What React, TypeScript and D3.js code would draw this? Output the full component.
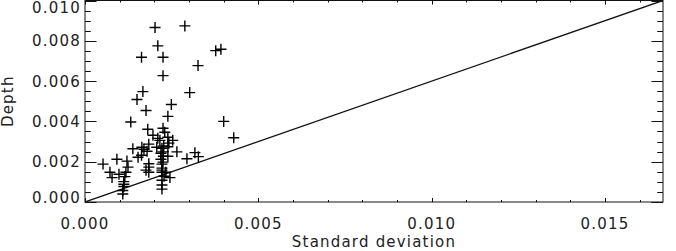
import React, { useEffect, useRef } from "react";
import * as d3 from "d3";

// standard deviation (x) and depth (y) of each measured point
const stdDev = [
  0.00202, 0.00288, 0.0021, 0.00163, 0.00225, 0.00225, 0.00377, 0.00392, 0.00326, 0.00302,
  0.00167, 0.0015, 0.00176, 0.00249, 0.00239, 0.00132, 0.004, 0.00429, 0.00181, 0.00225,
  0.00196, 0.0023, 0.0021, 0.00239, 0.00253, 0.00138, 0.00164, 0.00184, 0.00179, 0.00207,
  0.00225, 0.00239, 0.00265, 0.00294, 0.00317, 0.00327, 0.00052, 0.00092, 0.00072, 0.00078,
  0.00121, 0.00124, 0.00115, 0.00112, 0.00112, 0.00109, 0.00109, 0.00118, 0.00153, 0.00163,
  0.00184, 0.00184, 0.00184, 0.00219, 0.00226, 0.00222, 0.00222, 0.00222, 0.00233, 0.00245,
  0.00222, 0.00222, 0.00228, 0.00219, 0.00222, 0.00216, 0.00242, 0.00239, 0.00176, 0.00225,
  0.00222, 0.00222, 0.00112, 0.00098, 0.0017, 0.00227,
];
const depth = [
  0.00866, 0.00874, 0.00775, 0.00718, 0.00718, 0.00627, 0.00751, 0.00758, 0.00677, 0.00543,
  0.00548, 0.00509, 0.00454, 0.00484, 0.00425, 0.00397, 0.004, 0.00319, 0.00361, 0.00366,
  0.00331, 0.00346, 0.00316, 0.00321, 0.00306, 0.00264, 0.00272, 0.00287, 0.00252, 0.00272,
  0.00249, 0.00274, 0.00249, 0.00215, 0.00245, 0.00225, 0.00188, 0.00212, 0.00148, 0.00121,
  0.00203, 0.00173, 0.00126, 0.00101, 0.00077, 0.00057, 0.0004, 0.00148, 0.00222, 0.00232,
  0.0019, 0.00173, 0.00148, 0.00212, 0.00227, 0.00188, 0.00168, 0.00148, 0.00148, 0.00121,
  0.00084, 0.00064, 0.00128, 0.00242, 0.00267, 0.00306, 0.00292, 0.00227, 0.00158, 0.00198,
  0.00108, 0.00158, 0.00088, 0.00138, 0.00262, 0.00278,
];
const xTicks = [0, 0.005, 0.01, 0.015];
const yTicks = [0, 0.002, 0.004, 0.006, 0.008, 0.01];
const lineSlope = 0.6;

const font = "'DejaVu Sans', sans-serif";

const App = () => {
  const svgRef = useRef<SVGSVGElement>(null);

  useEffect(() => {
    const svg = d3.select(svgRef.current);
    svg.selectAll("*").remove();

    const left = 85, right = 663, top = 0.5, bottom = 202;
    const x = d3.scaleLinear().domain([0, 0.01667]).range([left, right]);
    const y = d3.scaleLinear().domain([0, 0.01]).range([bottom, top]);

    const ink = "#111";
    const xMinor = d3.range(0, 0.0167, 0.001);
    const yMinor = d3.range(0, 0.01001, 0.0005);
    const xLen = (bottom - top) * 0.02;
    const yLen = (right - left) * 0.02;

    const axes = svg.append("g").attr("stroke", ink).attr("stroke-width", 1).attr("fill", "none");
    axes.append("rect").attr("x", left).attr("y", top).attr("width", right - left).attr("height", bottom - top);

    // ticks on all four sides
    xMinor.forEach((v, i) => {
      const len = i % 5 === 0 ? xLen : xLen / 2;
      const px = Math.round(x(v)) + 0.5;
      axes.append("line").attr("x1", px).attr("x2", px).attr("y1", bottom).attr("y2", bottom - len);
      axes.append("line").attr("x1", px).attr("x2", px).attr("y1", top).attr("y2", top + len);
    });
    yMinor.forEach((v, i) => {
      const len = i % 4 === 0 ? yLen : yLen / 2;
      const py = Math.round(y(v)) + 0.5;
      axes.append("line").attr("x1", left).attr("x2", left + len).attr("y1", py).attr("y2", py);
      axes.append("line").attr("x1", right).attr("x2", right - len).attr("y1", py).attr("y2", py);
    });

    const labels = svg.append("g")
      .attr("font-family", font)
      .attr("font-size", 15)
      .attr("letter-spacing", 1.2)
      .attr("fill", "#222");

    labels.selectAll(".xt").data(xTicks).join("text")
      .attr("x", (d) => x(d))
      .attr("y", 229)
      .attr("text-anchor", "middle")
      .text((d) => d3.format(".3f")(d));

    labels.selectAll(".yt").data(yTicks).join("text")
      .attr("x", 81)
      .attr("y", (d) => Math.min(198, Math.max(8, y(d))))
      .attr("dy", "0.36em")
      .attr("text-anchor", "end")
      .text((d) => d3.format(".3f")(d));

    labels.append("text")
      .attr("x", (left + right) / 2)
      .attr("y", 247)
      .attr("text-anchor", "middle")
      .text("Standard deviation");

    labels.append("text")
      .attr("transform", `translate(13, ${(top + bottom) / 2}) rotate(-90)`)
      .attr("text-anchor", "middle")
      .text("Depth");

    // reference line, clipped to the plot box
    svg.append("clipPath").attr("id", "plotclip")
      .append("rect").attr("x", left).attr("y", top).attr("width", right - left).attr("height", bottom - top);

    const line = d3.line<number>().x((d) => x(d)).y((d) => y(d * lineSlope));
    svg.append("path")
      .attr("clip-path", "url(#plotclip)")
      .attr("d", line([0, 0.01667]))
      .attr("stroke", ink)
      .attr("stroke-width", 1.3)
      .attr("fill", "none");

    // plus markers
    const pts = stdDev.map((s, i) => [s, depth[i]]);
    const h = 5.5;
    svg.append("g")
      .selectAll("path")
      .data(pts)
      .join("path")
      .attr("d", (d) => {
        const cx = x(d[0]), cy = y(d[1]);
        return `M${cx - h},${cy}H${cx + h}M${cx},${cy - h}V${cy + h}`;
      })
      .attr("stroke", "#000")
      .attr("stroke-width", 1.4)
      .attr("fill", "none");
  }, []);

  return (
    <svg
      ref={svgRef}
      width={676}
      height={251}
      style={{ position: "absolute", left: 0, top: 0, background: "#fff" }}
    />
  );
};

export default App;
